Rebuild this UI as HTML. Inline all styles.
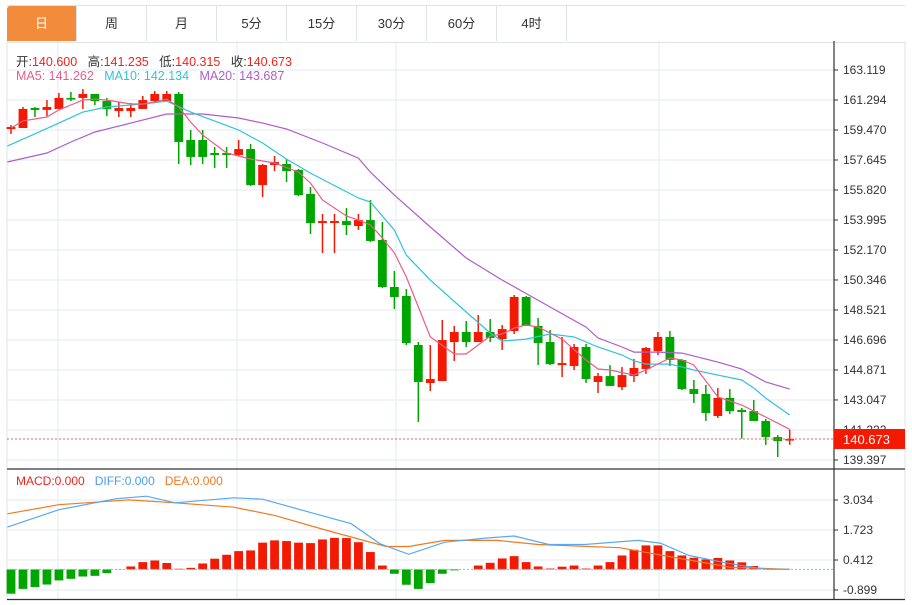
<!DOCTYPE html>
<html><head><meta charset="utf-8"><style>
body{margin:0;background:#fff;font-family:"Liberation Sans","Noto Sans CJK SC",sans-serif;}
#wrap{position:relative;width:912px;height:605px;overflow:hidden;}
.tab{position:absolute;top:6px;height:35px;width:69px;border-right:1px solid #dfe3e8;font-size:13px;color:#333;text-align:center;line-height:35px;}
.lab{position:absolute;font-size:12.5px;white-space:nowrap;}
</style></head><body>
<div id="wrap">
<div style="position:absolute;left:7px;top:5px;width:898px;height:36px;border-top:1px solid #dfe3e8;border-bottom:1px solid #dfe3e8;"></div>
<div class="tab" style="left:7px;background:#f28b3c;color:#fff;border-radius:3px 0 0 0;">日</div>
<div class="tab" style="left:77px">周</div>
<div class="tab" style="left:147px">月</div>
<div class="tab" style="left:217px">5分</div>
<div class="tab" style="left:287px">15分</div>
<div class="tab" style="left:357px">30分</div>
<div class="tab" style="left:427px">60分</div>
<div class="tab" style="left:497px">4时</div>
<svg id="svg" width="912" height="605" style="position:absolute;left:0;top:0"></svg>
<div class="lab" style="left:16px;top:51px;color:#333">开:<span style="color:#f0241b">140.600</span>&nbsp;&nbsp; 高:<span style="color:#f0241b">141.235</span>&nbsp;&nbsp; 低:<span style="color:#f0241b">140.315</span>&nbsp;&nbsp; 收:<span style="color:#f0241b">140.673</span></div>
<div class="lab" style="left:16px;top:69px;"><span style="color:#ec5b8a">MA5: 141.262</span>&nbsp;&nbsp; <span style="color:#2fc4d8">MA10: 142.134</span>&nbsp;&nbsp; <span style="color:#b05cc8">MA20: 143.687</span></div>
<div class="lab" style="left:16px;top:474px;font-size:12px;"><span style="color:#f0241b">MACD:0.000</span>&nbsp;&nbsp; <span style="color:#4a9ee8">DIFF:0.000</span>&nbsp;&nbsp; <span style="color:#f07a22">DEA:0.000</span></div>
</div>
<script>
const candles=[[159.53,159.77,159.23,159.65],[159.59,160.87,159.59,160.75],[160.81,160.87,160.26,160.69],[160.69,161.29,160.32,160.87],[160.75,161.72,160.75,161.42],[161.42,161.78,161.23,161.35],[161.42,161.96,160.75,161.66],[161.66,161.66,160.99,161.23],[161.23,161.42,160.32,160.75],[160.62,161.17,160.26,160.81],[160.62,161.11,160.26,160.81],[160.75,161.54,160.75,161.29],[161.23,161.84,161.17,161.66],[161.23,161.84,161.23,161.66],[161.66,161.78,157.4,158.74],[158.86,159.47,157.34,157.83],[158.86,159.47,157.4,157.83],[158.07,158.43,157.16,157.95],[158.07,158.43,157.16,157.95],[157.95,158.86,157.89,158.31],[158.31,158.62,156.06,156.12],[156.12,157.4,155.39,157.34],[157.34,157.89,156.97,157.52],[157.4,157.7,156.31,156.97],[157.04,157.1,155.45,155.51],[155.58,156.0,153.14,153.81],[153.81,154.36,151.99,153.93],[153.81,154.36,151.99,153.93],[153.93,154.72,153.08,153.69],[153.63,154.36,153.39,153.99],[153.99,155.21,152.66,152.72],[152.78,153.87,149.86,149.92],[149.92,150.89,148.58,149.31],[149.37,149.8,146.39,146.51],[146.39,146.57,141.71,144.14],[144.08,146.39,143.59,144.32],[144.2,147.91,144.2,146.69],[146.57,147.55,145.42,147.18],[147.18,147.85,146.27,146.57],[146.57,148.21,146.57,147.18],[147.18,147.97,146.57,146.82],[146.75,147.61,146.09,147.36],[147.24,149.43,147.06,149.31],[149.31,149.37,147.55,147.55],[147.55,148.03,145.17,146.51],[146.57,147.3,145.17,145.23],[145.17,146.88,144.44,145.29],[145.11,146.45,144.87,146.27],[146.27,146.45,144.08,144.32],[144.14,144.69,143.47,144.5],[144.5,145.17,143.9,143.9],[143.83,145.05,143.65,144.56],[144.5,145.54,144.14,144.99],[144.93,146.27,144.63,146.21],[146.02,147.18,145.78,146.88],[146.88,147.24,145.11,145.48],[145.48,145.54,143.65,143.71],[143.71,144.26,142.86,143.41],[143.41,143.96,141.77,142.25],[142.07,143.77,141.95,143.17],[143.17,143.71,142.19,142.37],[142.44,142.56,140.69,142.31],[142.37,143.04,141.77,141.77],[141.77,141.89,140.31,140.79],[140.79,140.91,139.58,140.55],[140.6,141.235,140.315,140.673]];
const ma5=[[0,159.59],[1,160.02],[3,160.26],[4,160.69],[5,160.99],[6,161.29],[7,161.35],[8,161.29],[9,161.17],[10,161.05],[11,161.05],[12,161.17],[13,161.35],[14,160.87],[15,159.95],[16,159.16],[18,158.07],[20,157.7],[22,157.46],[24,156.91],[25,156.24],[26,155.21],[28,154.24],[29,153.99],[30,153.69],[31,152.9],[32,151.99],[33,150.53],[35,146.88],[37,145.84],[38,145.84],[40,146.94],[41,147.06],[42,147.42],[43,147.61],[44,147.48],[46,146.75],[48,145.48],[49,144.93],[50,144.87],[52,144.56],[53,144.87],[55,145.6],[56,145.48],[57,145.17],[59,143.23],[61,142.74],[63,142.01],[65,141.26]];
const ma10=[[-0.3,158.49],[4,159.89],[6,160.56],[8,160.87],[11,161.05],[13,161.23],[15,160.56],[19,159.47],[21,158.68],[23,157.7],[25,156.85],[29,155.33],[30,155.09],[32,153.38],[33,151.86],[35,150.34],[38,148.4],[40,147.12],[41,146.63],[43,146.75],[45,147.06],[47,146.88],[49,146.27],[51,145.78],[52,145.42],[53,145.23],[55,145.23],[57,144.87],[59,144.56],[61,144.26],[62,143.77],[63,143.16],[65,142.13]];
const ma20=[[-0.3,157.52],[3,158.07],[5,158.74],[7,159.35],[10,159.89],[13,160.44],[16,160.44],[19,160.2],[21,159.89],[23,159.53],[26,158.68],[29,157.76],[30,156.91],[32,155.51],[35,153.57],[38,151.68],[41,150.34],[45,148.7],[48,147.48],[49,146.82],[51,146.27],[52,145.96],[54,145.96],[56,145.9],[59,145.35],[61,144.93],[63,144.14],[65,143.71]];
const macdHist=[-1.06,-0.85,-0.77,-0.66,-0.48,-0.41,-0.31,-0.28,-0.16,-0.01,0.13,0.32,0.39,0.28,0.03,0.07,0.26,0.47,0.64,0.8,0.83,1.17,1.27,1.24,1.17,1.15,1.31,1.38,1.37,1.19,0.76,0.17,-0.19,-0.67,-0.85,-0.6,-0.19,-0.04,0,0.17,0.29,0.48,0.58,0.32,0.13,0.04,0.12,0.17,0.04,0.17,0.32,0.61,0.86,1.05,1.05,0.8,0.61,0.51,0.44,0.5,0.39,0.31,0.15,0,0,0];
const diff=[[-0.3,1.85],[4,2.61],[8.8,3.09],[11.3,3.2],[13.7,2.91],[18.6,3.13],[21,3.07],[25.4,2.43],[28.4,2.0],[30.8,1.12],[33.2,0.66],[36.2,1.19],[39.6,1.37],[42,1.46],[44.9,1.09],[47.9,1.09],[52.3,1.27],[54.2,1.15],[56.6,0.61],[60,0.25],[63,0.01],[65,0]];
const dea=[[-0.3,2.43],[4,2.83],[9.8,3.04],[13.7,2.91],[18.6,2.72],[22,2.36],[26.4,1.7],[31.3,1.0],[33.2,1.0],[36.2,1.27],[40.6,1.27],[44,1.09],[50.8,0.95],[55.2,0.54],[60,0.1],[65,0]];
const priceTicks=[163.119,161.294,159.470,157.645,155.820,153.995,152.170,150.346,148.521,146.696,144.871,143.047,141.222,139.397];
const macdTicks=[3.034,1.723,0.412,-0.899];
const lastPrice=140.673;

const NS='http://www.w3.org/2000/svg';
const svg=document.getElementById('svg');
function el(t,a,p){const e=document.createElementNS(NS,t);for(const k in a)e.setAttribute(k,a[k]);(p||svg).appendChild(e);return e;}
const X=i=>11+i*11.98;
const Y=p=>70+(163.119-p)*30/1.825;
const MY=v=>500+(3.034-v)*30/1.311;
const L=7,R=834;
const grid=el('g',{});


priceTicks.forEach(t=>{el('line',{x1:L,x2:R,y1:Y(t),y2:Y(t),stroke:'#e3ebf3','stroke-width':1},grid);});
macdTicks.forEach(t=>{el('line',{x1:L,x2:R,y1:MY(t),y2:MY(t),stroke:'#e3ebf3','stroke-width':1},grid);});
[58,237,396,659].forEach(x=>el('line',{x1:x,x2:x,y1:41,y2:599,stroke:'#e3ebf3'},grid));
el('line',{x1:L,x2:L,y1:41,y2:600,stroke:'#dfe3e8'});
el('line',{x1:905,x2:905,y1:41,y2:600,stroke:'#dfe3e8'});
el('line',{x1:L,x2:905,y1:469,y2:469,stroke:'#333','stroke-width':1.2});
el('line',{x1:L,x2:905,y1:599.5,y2:599.5,stroke:'#333','stroke-width':1.2});
el('line',{x1:R,x2:R,y1:41,y2:600,stroke:'#333','stroke-width':1.2});
priceTicks.forEach(t=>{
  el('line',{x1:R,x2:R+4,y1:Y(t),y2:Y(t),stroke:'#333'});
  const tx=el('text',{x:843,y:Y(t)+4,'font-size':12,fill:'#333','font-family':'Liberation Sans, sans-serif'});
  tx.textContent=t.toFixed(3);
  
  
});
macdTicks.forEach(t=>{
  el('line',{x1:R,x2:R+4,y1:MY(t),y2:MY(t),stroke:'#333'});
  const tx=el('text',{x:843,y:MY(t)+4,'font-size':12,fill:'#333','font-family':'Liberation Sans, sans-serif'});
  tx.textContent=t.toFixed(3);
  
  
});
candles.forEach((c,i)=>{
  const [o,h,l,cl]=c;const up=cl>=o;const col=up?'#f31a03':'#00a600';
  const g=el('g',{});
  
  
  const x=X(i);
  el('line',{x1:x,x2:x,y1:Y(h),y2:Y(l),stroke:col,'stroke-width':1.5},g);
  const t=Math.min(Y(o),Y(cl));const hh=Math.max(Math.abs(Y(o)-Y(cl)),1.6);
  el('rect',{x:x-4.4,y:t,width:8.8,height:hh,fill:col},g);
});
function line(pts,fx,fy,col,name){
  const p=el('polyline',{points:pts.map(q=>fx(q[0]).toFixed(1)+','+fy(q[1]).toFixed(1)).join(' '),fill:'none',stroke:col,'stroke-width':1.2});
  
  
}
line(ma20,X,Y,'#b05cc8','ma20-line');
line(ma10,X,Y,'#2fc4d8','ma10-line');
line(ma5,X,Y,'#ec5b8a','ma5-line');
el('line',{x1:L,x2:R,y1:Y(lastPrice),y2:Y(lastPrice),stroke:'#f06060','stroke-dasharray':'2,2'});
const bx=el('rect',{x:R,y:Y(lastPrice)-10,width:71,height:20,fill:'#f31a03'});


const lt=el('text',{x:843,y:Y(lastPrice)+5,'font-size':13,fill:'#fff','font-family':'Liberation Sans, sans-serif'});
lt.textContent=lastPrice.toFixed(3);
const z=MY(0);
macdHist.forEach((v,i)=>{
  if(Math.abs(v)<0.005)return;
  const r=el('rect',{x:X(i)-4.4,y:Math.min(z,MY(v)),width:8.8,height:Math.abs(MY(v)-z),fill:v>=0?'#f31a03':'#00a600'});
  
  
});
el('line',{x1:L,x2:R,y1:z,y2:z,stroke:'#8ab8e0','stroke-dasharray':'2,2'});
line(dea,X,MY,'#f07a22','dea-line');
line(diff,X,MY,'#5aa8f0','diff-line');
</script>
</body></html>
